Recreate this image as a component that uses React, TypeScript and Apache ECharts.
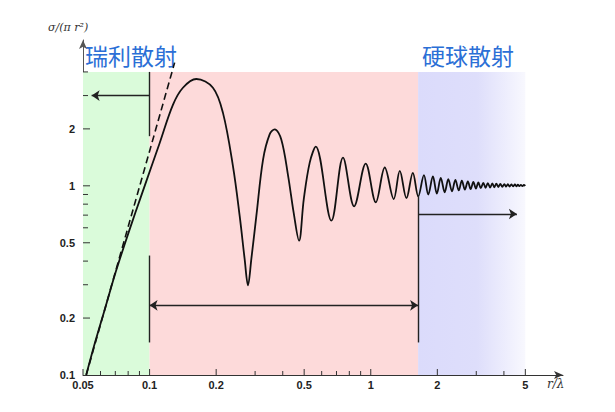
import React, { useEffect, useRef } from 'react';
import * as echarts from 'echarts';

// axis ranges (log scales)
const xMin = 0.05;
const xMax = 7.4;
const yMin = 0.1;
const yMax = 5.9;

// ticks
const xTickValues = [0.05, 0.06, 0.07, 0.08, 0.09, 0.1, 0.2, 0.3, 0.4, 0.5, 0.6, 0.7, 0.8, 0.9, 1, 2, 3, 4, 5];
const xLabelValues = [0.05, 0.1, 0.2, 0.5, 1, 2, 5];
const xLabelTexts = ['0.05', '0.1', '0.2', '0.5', '1', '2', '5'];
const yTickValues = [0.2, 0.3, 0.4, 0.5, 0.6, 0.7, 0.8, 0.9, 1, 2, 3, 4];
const yLabelValues = [0.1, 0.2, 0.5, 1, 2];
const yLabelTexts = ['0.1', '0.2', '0.5', '1', '2'];

// σ/(πr²) against r/λ
const curveR = [
  0.0517, 0.057, 0.0632, 0.0694, 0.0771, 0.0862, 0.0959, 0.111, 0.1275, 0.1415,
  0.1627, 0.1934, 0.2147, 0.2382, 0.2554, 0.269, 0.2786, 0.2885, 0.304, 0.326,
  0.349, 0.368, 0.394, 0.423, 0.448, 0.474, 0.498, 0.53, 0.564, 0.664,
  0.749, 0.841, 0.949, 1.054, 1.157, 1.27, 1.353, 1.45, 1.55, 1.64,
  1.74, 1.82, 1.91, 1.99, 2.073, 2.16, 2.242, 2.33, 2.413, 2.5,
  2.581, 2.665, 2.748, 2.83, 2.91, 2.99, 3.065, 3.145, 3.228, 3.305,
  3.383, 3.465, 3.546, 3.62, 3.697, 3.775, 3.855, 3.935, 4.019, 4.093,
  4.168, 4.245, 4.323, 4.4, 4.484, 4.555, 4.627, 4.7, 4.773, 4.85,
  4.924, 5.0,
];
const curveSigma = [
  0.1, 0.152, 0.229, 0.334, 0.49, 0.72, 1.03, 1.68, 2.68, 3.3,
  3.67, 3.3, 2.43, 1.27, 0.695, 0.411, 0.298, 0.411, 0.695, 1.38,
  1.87, 1.99, 1.76, 1.13, 0.724, 0.513, 0.851, 1.33, 1.61, 0.654,
  1.41, 0.779, 1.31, 0.818, 1.25, 0.851, 1.2, 0.86, 1.17, 0.88,
  1.14, 0.9, 1.12, 0.91, 1.1, 0.925, 1.085, 0.935, 1.075, 0.945,
  1.065, 0.955, 1.055, 0.96, 1.048, 0.967, 1.042, 0.972, 1.037, 0.977,
  1.033, 0.98, 1.03, 0.983, 1.027, 0.986, 1.024, 0.988, 1.022, 0.99,
  1.02, 0.992, 1.018, 0.994, 1.016, 0.995, 1.014, 0.996, 1.012, 0.997,
  1.01, 1.0,
];

// Rayleigh asymptote (dashed)
const rayleighR = [0.0517, 0.1298];
const rayleighSigma = [0.1, 4.48];

// regions: [from r, to r]
const regionTop = 4;
const rayleighRegion = [0.05, 0.1];
const mieRegion = [0.1, 1.637];
const geometricRegion = [1.637, 5];

// annotation segments: [r1, s1, r2, s2, startArrow, endArrow]
const guideLines: [number, number, number, number, boolean, boolean][] = [
  [0.1, 4.0, 0.1, 1.83, false, false],
  [0.1, 3.0, 0.0547, 3.0, false, true],
  [0.1, 0.428, 0.1, 0.1486, false, false],
  [0.1, 0.2335, 1.637, 0.2335, true, true],
  [1.637, 0.893, 1.637, 0.1486, false, false],
  [1.637, 0.71, 4.58, 0.71, false, true],
];

export default function App() {
  const chartRef = useRef<HTMLDivElement>(null);

  useEffect(() => {
    document.body.style.margin = '0';
    const chart = echarts.init(chartRef.current!, null, { renderer: 'svg' });

    const tickFont = {
      fontFamily: 'Liberation Sans, Arial, sans-serif',
      fontSize: 11,
      fontWeight: 'bold' as const,
      fill: '#222',
    };

    chart.setOption({
      animation: false,
      backgroundColor: '#fff',
      grid: { left: 83, right: 52, top: 40, bottom: 37 },
      xAxis: {
        type: 'log',
        logBase: 10,
        min: xMin,
        max: xMax,
        axisLine: {
          show: true,
          onZero: false,
          symbol: ['none', 'arrow'],
          symbolSize: [6, 9],
          lineStyle: { color: '#333', width: 1 },
        },
        axisTick: { show: false },
        axisLabel: { show: false },
        splitLine: { show: false },
      },
      yAxis: {
        type: 'log',
        logBase: 10,
        min: yMin,
        max: yMax,
        axisLine: {
          show: true,
          onZero: false,
          symbol: ['none', 'arrow'],
          symbolSize: [6, 9],
          lineStyle: { color: '#555', width: 1 },
        },
        axisTick: { show: false },
        axisLabel: { show: false },
        splitLine: { show: false },
      },
      graphic: [
        {
          type: 'text',
          left: 48,
          top: 22,
          style: {
            text: 'σ/(π r²)',
            fill: '#333',
            font: 'italic 11px "DejaVu Serif", serif',
          },
        },
        {
          type: 'text',
          left: 547,
          top: 378,
          style: {
            text: 'r/λ',
            fill: '#333',
            font: 'italic 12px "DejaVu Serif", serif',
          },
        },
        {
          type: 'text',
          left: 85,
          top: 43,
          style: {
            text: '瑞利散射',
            fill: '#2b6fd6',
            font: '23px "Noto Sans CJK SC", sans-serif',
          },
        },
        {
          type: 'text',
          left: 422,
          top: 43,
          style: {
            text: '硬球散射',
            fill: '#2b6fd6',
            font: '23px "Noto Sans CJK SC", sans-serif',
          },
        },
      ],
      series: [
        {
          type: 'line',
          z: 1,
          data: rayleighR.map((r, i) => [r, rayleighSigma[i]]),
          showSymbol: false,
          clip: false,
          lineStyle: { color: '#111', width: 1.6, type: [7, 4] },
          silent: true,
          markArea: {
            silent: true,
            data: [
              [
                { coord: [rayleighRegion[0], yMin], itemStyle: { color: '#dafbda' } },
                { coord: [rayleighRegion[1], regionTop] },
              ],
              [
                { coord: [mieRegion[0], yMin], itemStyle: { color: '#fddada' } },
                { coord: [mieRegion[1], regionTop] },
              ],
              [
                {
                  coord: [geometricRegion[0], yMin],
                  itemStyle: {
                    color: new echarts.graphic.LinearGradient(0, 0, 1, 0, [
                      { offset: 0, color: '#dbdbfb' },
                      { offset: 0.55, color: '#dedefb' },
                      { offset: 1, color: '#f8f8fe' },
                    ]),
                  },
                },
                { coord: [geometricRegion[1], regionTop] },
              ],
            ],
          },
        },
        {
          type: 'line',
          z: 3,
          data: curveR.map((r, i) => [r, curveSigma[i]]),
          showSymbol: false,
          smooth: 0.35,
          lineStyle: { color: '#111', width: 1.8 },
          silent: true,
          markLine: {
            silent: true,
            symbolSize: 8,
            label: { show: false },
            lineStyle: { color: '#222', width: 1.4, type: 'solid' },
            data: guideLines.map(([r1, s1, r2, s2, a1, a2]) => [
              { coord: [r1, s1], symbol: a1 ? 'arrow' : 'none' },
              { coord: [r2, s2], symbol: a2 ? 'arrow' : 'none' },
            ]),
          },
        },
        {
          type: 'custom',
          z: 4,
          silent: true,
          clip: false,
          data: xTickValues.map((v) => [v, yMin]),
          renderItem: (params: any, api: any) => {
            const v = api.value(0);
            const p = api.coord([v, yMin]);
            const idx = xLabelValues.indexOf(v);
            const children: any[] = [
              {
                type: 'line',
                shape: { x1: p[0], y1: p[1], x2: p[0], y2: p[1] - (idx >= 0 ? 6 : 4) },
                style: { stroke: '#333', lineWidth: 1 },
              },
            ];
            if (idx >= 0) {
              children.push({
                type: 'text',
                style: { ...tickFont, text: xLabelTexts[idx], x: p[0], y: p[1] + 4, align: 'center', verticalAlign: 'top' },
              });
            }
            return { type: 'group', children };
          },
        },
        {
          type: 'custom',
          z: 4,
          silent: true,
          clip: false,
          data: yTickValues.map((v) => [xMin, v]),
          renderItem: (params: any, api: any) => {
            const v = api.value(1);
            const p = api.coord([xMin, v]);
            const major = yLabelValues.indexOf(v) >= 0;
            return {
              type: 'line',
              shape: { x1: p[0], y1: p[1], x2: p[0] + (major ? 7 : 5), y2: p[1] },
              style: { stroke: '#333', lineWidth: 1 },
            };
          },
        },
        {
          type: 'custom',
          z: 4,
          silent: true,
          clip: false,
          data: yLabelValues.map((v) => [xMin, v]),
          renderItem: (params: any, api: any) => {
            const v = api.value(1);
            const p = api.coord([xMin, v]);
            return {
              type: 'text',
              style: {
                ...tickFont,
                text: yLabelTexts[params.dataIndex],
                x: p[0] - 8,
                y: p[1],
                align: 'right',
                verticalAlign: 'middle',
              },
            };
          },
        },
      ],
    });

    return () => {
      chart.dispose();
    };
  }, []);

  return <div ref={chartRef} style={{ width: 615, height: 412 }} />;
}
